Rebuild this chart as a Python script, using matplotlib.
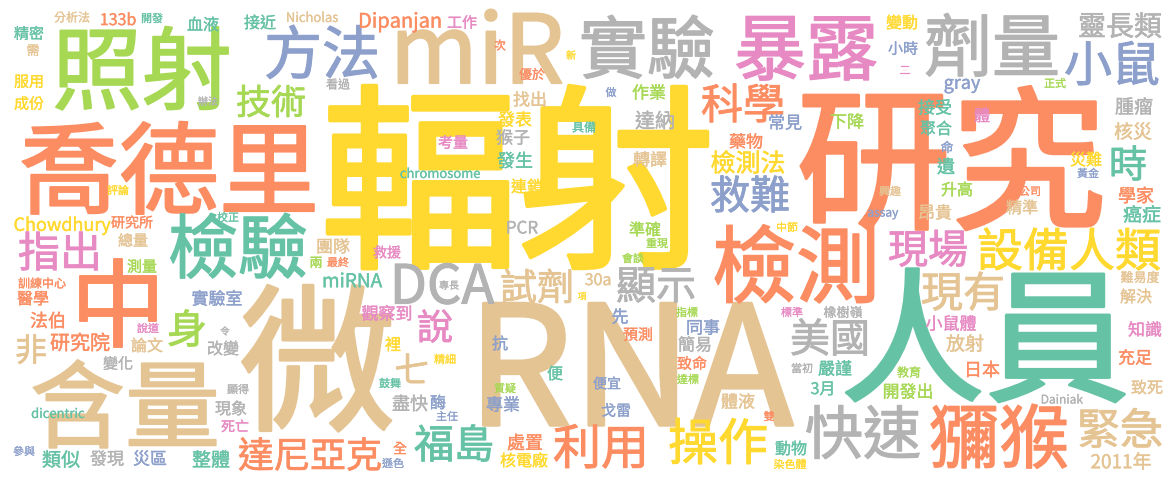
"""Word cloud of a Chinese news article on rapid radiation-dose testing (miR / RNA)."""

import matplotlib
matplotlib.use("Agg")
import matplotlib.pyplot as plt
import matplotlib.patheffects as pe

plt.rcParams['font.family'] = ['Noto Sans CJK TC', 'DejaVu Sans']

# Set2 palette used by the cloud
G, O, B, P = '#66c2a5', '#fc8d62', '#8da0cb', '#e78ac3'
L, Y, T, A = '#a6d854', '#ffd92f', '#e5c494', '#b3b3b3'

# words and their weight (weight ~ rendered em size in px)
words = [
    '輻射', '研究', 'RNA', '人員', '微', '喬德里', '含量', '照射', '中', 'miR',
    '實驗', '暴露', '劑量', '檢測', '檢驗', '獼猴', 'DCA', '方法', '小鼠', '設備人類',
    '福島', '利用', '操作', '快速', '緊急', '美國', '救難', '科學', '現場', '現有',
    '達尼亞克', '指出', '顯示', '試劑', '身', '說', '七', '時', '技術', '非',
    '靈長類', '檢測法',
    # small words, top-left area
    '分析法', '133b', '開發', '血液', '接近', 'Nicholas', '精密', '需', '服用', '成份',
    '辦法', '評論', '校正', 'Chowdhury', '研究所', '總量', '測量', '訓練中心', '醫學', '實驗室',
    '法伯', '說道', '令', '研究院', '論文', '改變', '變化', '顯得', '現象', 'dicentric',
    '死亡', '參與', '類似', '發現', '災區', '整體',
    # middle
    '團隊', '救援', '兩', '最終', 'miRNA', '專長', '觀察到', '裡', '抗', '精細',
    '便', '鼓舞', '質疑', '盡快', '酶', '專業', '主任', '全', '處置', '遜色',
    '核電廠', '重現', '準確', '會談', '30a', '項', '轉譯', '中節', '先', '指標',
    '標準', '橡樹嶺', '預測', '同事', '簡易', '致命', '當初', '嚴謹', '達標', '便宜',
    '3月', '體液', '戈雷', '雙', '動物', '染色體',
    # right
    '難易度', '解決', '小鼠體', '知識', '放射', '充足', '日本', '教育', '開發出', '致死',
    'Dainiak', '2011年', '變動', '小時', '三', 'gray', '正式', '接受', '體', '腫瘤',
    '聚合', '核災', '命', '遺', '災難', '黃金', '升高', '興趣', '公司', '學家',
    'assay', '昂貴', '精準', '癌症',
    # top middle
    '做', '作業', '達納', '常見', '下降', '具備', '藥物', 'Dipanjan', '工作', '次',
    '新', '優於', '看過', '找出', '發表', '考量', '猴子', '發生', 'chromosome', '連鎖',
    'PCR',
]

weights = [
    198, 155, 166, 145, 158, 100, 95, 90, 95, 95,
    68, 72, 68, 84, 70, 70, 54, 58, 48, 46,
    40, 48, 50, 58, 43, 40, 40, 42, 40, 42,
    36, 42, 40, 37, 40, 36, 35, 38, 35, 32,
    28, 25,
    12, 16, 11, 16, 16, 13, 15, 13, 15, 15,
    10, 11, 11, 18, 14, 15, 15, 12, 16, 17,
    18, 11, 10, 20, 16, 16, 15, 11, 16, 13,
    14, 11, 19, 17, 17, 19,
    17, 14, 13, 11, 19, 10, 17, 16, 16, 11,
    16, 11, 11, 18, 16, 17, 11, 14, 18, 11,
    16, 11, 16, 11, 16, 9, 17, 11, 17, 11,
    11, 13, 15, 17, 17, 15, 11, 17, 11, 14,
    16, 17, 15, 11, 16, 11,
    13, 16, 17, 17, 19, 17, 18, 12, 17, 16,
    12, 19, 16, 15, 11, 18, 11, 17, 16, 19,
    16, 19, 13, 18, 16, 11, 16, 11, 11, 18,
    12, 17, 16, 19,
    11, 17, 20, 17, 17, 12, 17, 20, 15, 12,
    10, 13, 12, 17, 17, 15, 17, 18, 13, 16,
    17,
]

colors = [
    Y, O, T, G, T, O, T, L, O, T,
    A, P, A, O, G, O, A, B, B, Y,
    G, O, Y, A, T, A, B, O, P, T,
    O, P, A, T, L, P, T, G, L, T,
    A, Y,
    T, O, G, G, G, T, G, T, Y, Y,
    A, Y, G, Y, O, T, L, O, O, B,
    O, P, A, O, T, A, A, A, A, G,
    P, B, G, A, B, G,
    T, P, L, O, G, A, P, Y, B, Y,
    G, G, L, A, B, B, B, O, O, B,
    Y, L, L, L, T, Y, T, Y, B, L,
    P, A, O, B, A, O, A, G, L, B,
    G, T, B, O, G, Y,
    T, T, P, P, T, O, O, L, L, T,
    A, T, Y, B, P, B, L, G, P, A,
    G, T, B, G, Y, B, L, T, O, O,
    B, T, T, G,
    B, L, A, B, L, G, O, O, P, O,
    Y, O, A, T, Y, P, A, G, G, Y,
    A,
]

# layout: centre of each word in image pixels (x right, y down)
layout = [
    (518, 177), (951, 158), (630, 362), (985, 335), (317, 358),
    (169, 168), (125, 404), (142, 68), (118, 303), (477, 47),
    (647, 47), (806, 47), (992, 45), (796, 264), (238, 246),
    (999, 436), (442, 283), (322, 52), (1112, 63), (1069, 249),
    (454, 443), (601, 446), (718, 441), (863, 432), (1120, 428),
    (830, 337), (750, 194), (743, 103), (928, 248), (963, 291),
    (310, 454), (60, 251), (656, 284), (537, 286), (187, 328),
    (435, 326), (412, 369), (1128, 163), (271, 101), (31, 349),
    (1120, 25), (748, 162),
    (72, 17), (118, 19), (152, 18), (203, 24), (260, 22),
    (312, 17), (29, 33), (33, 50), (29, 81), (29, 103),
    (208, 101), (118, 190), (228, 217), (62, 224), (132, 222),
    (133, 240), (142, 266), (42, 283), (33, 298), (217, 298),
    (48, 320), (148, 328), (225, 331), (80, 342), (147, 345),
    (223, 348), (118, 363), (238, 389), (231, 408), (58, 413),
    (235, 426), (24, 451), (61, 459), (107, 458), (150, 458),
    (211, 459),
    (333, 246), (387, 252), (316, 262), (338, 262), (352, 280),
    (449, 285), (387, 313), (393, 344), (500, 343), (445, 359),
    (555, 373), (390, 383), (505, 388), (410, 403), (438, 402),
    (503, 404), (447, 416), (400, 448), (525, 442), (393, 463),
    (524, 460), (657, 243), (645, 229), (633, 258), (598, 279),
    (582, 296), (650, 159), (787, 227), (620, 316), (687, 312),
    (792, 312), (843, 312), (638, 334), (703, 327), (695, 344),
    (692, 363), (802, 368), (835, 368), (688, 379), (607, 383),
    (823, 388), (738, 401), (616, 410), (769, 416), (791, 448),
    (790, 464),
    (1140, 277), (1136, 296), (951, 323), (1145, 329), (965, 343),
    (1135, 357), (982, 369), (909, 372), (908, 391), (1147, 387),
    (1062, 399), (1121, 461), (902, 22), (903, 48), (905, 70),
    (962, 82), (1055, 83), (935, 107), (982, 115), (1134, 106),
    (936, 128), (1133, 131), (947, 147), (946, 166), (1086, 159),
    (1088, 173), (957, 189), (890, 191), (1030, 191), (1136, 195),
    (883, 212), (935, 212), (1022, 207), (1142, 214),
    (611, 92), (649, 92), (655, 120), (785, 122), (847, 121),
    (584, 127), (746, 141), (400, 20), (462, 22), (500, 45),
    (571, 55), (532, 74), (338, 84), (530, 99), (515, 119),
    (453, 142), (513, 137), (515, 160), (440, 173), (527, 186),
    (522, 227),
]

W, H, DPI = 1175, 482, 100
fig = plt.figure(figsize=(W / DPI, H / DPI), dpi=DPI)
ax = fig.add_axes([0, 0, 1, 1])
ax.set_xlim(0, W)
ax.set_ylim(H, 0)
ax.axis('off')

for word, size, col, (x, y) in zip(words, weights, colors, layout):
    # baseline sits ~0.38 em below the visual centre of a CJK glyph
    txt = ax.text(x, y + 0.38 * size, word, fontsize=size * 72 / DPI, color=col,
                  ha='center', va='baseline')
    # thin same-colour outline: heavier, rounded strokes like the original font
    txt.set_path_effects([pe.Stroke(linewidth=0.02 * size * 72 / DPI,
                                    foreground=col, joinstyle='round',
                                    capstyle='round'),
                          pe.Normal()])

fig.savefig('out.png', dpi=DPI, facecolor='white')
